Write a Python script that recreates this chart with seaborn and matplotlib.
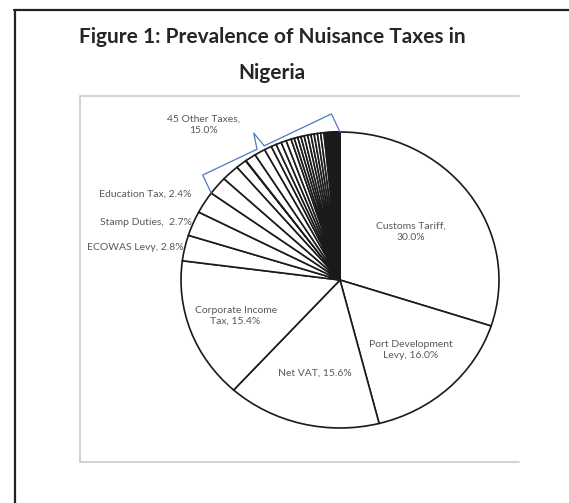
import numpy as np
import matplotlib
matplotlib.use("Agg")
import matplotlib.pyplot as plt
import seaborn as sns
from matplotlib.lines import Line2D

# Data (percent of total taxes)
main_taxes = ["Customs Tariff", "Port Development Levy", "Net VAT",
              "Corporate Income Tax", "ECOWAS Levy", "Stamp Duties", "Education Tax"]
main_shares = [30.0, 16.0, 15.6, 15.4, 2.8, 2.7, 2.4]
other_taxes = [2.0, 1.8, 1.1, 0.05, 1.1, 1.1, 0.75, 0.53, 0.55, 0.53,
               0.52, 0.33, 0.36, 0.33, 0.33, 0.36, 0.33, 0.33, 0.33, 0.33,
               0.33, 0.15, 0.14, 0.13, 0.12, 0.11, 0.1, 0.09, 0.09, 0.08,
               0.07, 0.07, 0.06, 0.06, 0.05, 0.05, 0.04, 0.04, 0.03, 0.03,
               0.03, 0.02, 0.02, 0.02, 0.01]
other_label = "45 Other Taxes,\n15.0%"

# label text, radial distance (fraction of radius), alignment
label_text = ["Customs Tariff,\n30.0%", "Port Development\nLevy, 16.0%", "Net VAT, 15.6%",
              "Corporate Income\nTax, 15.4%", "ECOWAS Levy, 2.8%", "Stamp Duties,  2.7%",
              "Education Tax, 2.4%"]
label_dist = [0.55, 0.65, 0.65, 0.70, 1.01, 1.01, 1.10]
label_ha = ["center", "center", "center", "center", "right", "right", "right"]

sns.set_theme(style="white")
plt.rcParams['font.family'] = ['Lato', 'DejaVu Sans']

W, H = 569, 503
fig = plt.figure(figsize=(W / 100, H / 100), dpi=100)
fig.patch.set_facecolor("white")

# pie axes (slightly stretched like the original Excel plot area)
cx, cy, rx, ry = 340, 280, 159, 148
ax = fig.add_axes([(cx - rx) / W, 1 - (cy + ry) / H, 2 * rx / W, 2 * ry / H])
values = main_shares + other_taxes
wedges, _ = ax.pie(values, startangle=90, counterclock=False,
                   colors=["white"] * len(values),
                   wedgeprops=dict(edgecolor="#1a1a1a", linewidth=1.2))
ax.set_aspect("auto")
ax.set_xlim(-1, 1)
ax.set_ylim(-1, 1)
ax.axis("off")

for w, txt, d, ha in zip(wedges[:len(main_shares)], label_text, label_dist, label_ha):
    mid = np.deg2rad((w.theta1 + w.theta2) / 2)
    ax.text(d * np.cos(mid), d * np.sin(mid), txt, ha=ha, va="center",
            fontsize=7.5, color="#595959", linespacing=1.3)

# brace over the "other" slices, computed in pixel units
t_start = np.deg2rad(wedges[len(main_shares)].theta2)
t_end = np.deg2rad(wedges[-1].theta1)
A = np.array([np.cos(t_start) * rx, np.sin(t_start) * ry])
B = np.array([np.cos(t_end) * rx, np.sin(t_end) * ry])
d = (B - A) / np.linalg.norm(B - A)
n = np.array([-d[1], d[0]])
if np.dot(n, (A + B) / 2) < 0:
    n = -n
off = 20
s1, s2 = A + off * n, B + off * n
mid_pt = A + 0.45 * (B - A)
pts = np.array([A, s1, mid_pt + off * n - 4 * d, mid_pt + (off + 16) * n,
                mid_pt + off * n + 4 * d, s2, B])
ax.plot(pts[:, 0] / rx, pts[:, 1] / ry, color="#4a7ac2", lw=0.9, clip_on=False)
tip = pts[3]
ax.text((tip[0] - 50) / rx, (tip[1] + 8) / ry, other_label, ha="center", va="center",
        fontsize=7.5, color="#595959", linespacing=1.3)

# title
fig.text(272 / W, 1 - 37 / H, "Figure 1: Prevalence of Nuisance Taxes in",
         ha="center", va="center", fontsize=15, fontweight="bold", color="#262626")
fig.text(272 / W, 1 - 73 / H, "Nigeria",
         ha="center", va="center", fontsize=15, fontweight="bold", color="#262626")

# frames
def fline(x0, y0, x1, y1, **kw):
    fig.add_artist(Line2D([x0 / W, x1 / W], [1 - y0 / H, 1 - y1 / H], **kw))

fline(15, 10, 15, 503, color="#222222", lw=1.6)
fline(14, 10, 569, 10, color="#222222", lw=1.6)
fline(80, 96, 519, 96, color="#c8c8c8", lw=1.1)
fline(80, 96, 80, 462, color="#c8c8c8", lw=1.1)
fline(80, 462, 519, 462, color="#c8c8c8", lw=1.1)

fig.savefig("out.png", dpi=100, facecolor="white")
